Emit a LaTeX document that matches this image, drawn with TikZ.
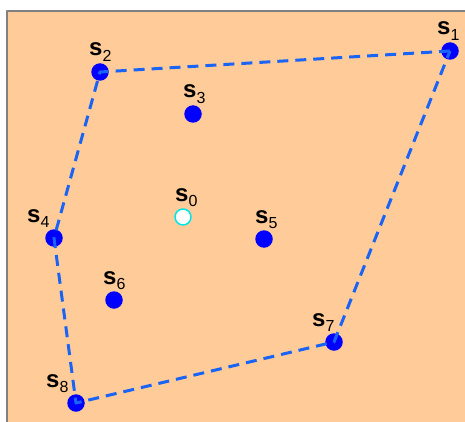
\documentclass[tikz,border=0pt]{standalone}
\usepackage{fontspec}
\setmainfont{Liberation Sans}
\definecolor{peach}{RGB}{255,204,153}
\definecolor{ptblue}{RGB}{0,0,255}
\definecolor{hullblue}{RGB}{25,100,245}
\definecolor{ringcyan}{RGB}{0,230,230}
\newcommand{\slab}[1]{{\fontsize{24}{28}\selectfont\bfseries s}\raisebox{-5.5pt}{\fontsize{16}{19}\selectfont #1}}
\begin{document}
\begin{tikzpicture}[x=1pt,y=-1pt,line join=round,
	pt/.style={circle,fill=ptblue,inner sep=0pt,minimum size=17.5pt},
	hull/.style={hullblue,line width=3pt,dash pattern=on 11pt off 7pt},
	lab/.style={anchor=base west,inner sep=0pt}]
	\useasboundingbox (0,0) rectangle (465,422);
	\fill[peach] (7,11) rectangle (465,422);
	\draw[gray,line width=1.2pt] (7,422) -- (7,11) -- (465,11);
	% sample points and their labels
	\foreach \n/\x/\y/\dx in {1/450/51/-13, 2/100/72/-11, 3/193/114/-10, 4/54/238/-27,
		5/264/239/-9, 6/114/300/-11, 7/334/342/-22, 8/76/403/-30}{
		\node[pt] (s\n) at (\x,\y) {};
		\node[lab] (l\n) at (\x+\dx,\y-16) {\slab{\n}};
	}
	\node[pt,fill=white,draw=ringcyan,line width=1.5pt,minimum size=16pt] (s0) at (183,217) {};
	\node[lab] (l0) at (175,201) {\slab{0}};
	% convex hull
	\draw[hull] (s1.center) -- (s2.center) -- (s4.center) -- (s8.center) -- (s7.center) -- cycle;
\end{tikzpicture}
\end{document}
